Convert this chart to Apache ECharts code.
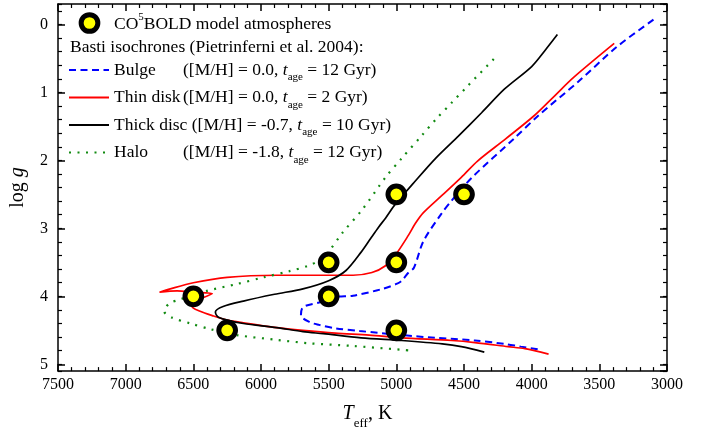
<!DOCTYPE html>
<html>
<head>
<meta charset="utf-8">
<script src="https://cdn.jsdelivr.net/npm/echarts@6/dist/echarts.min.js"></script>
<style>html,body{margin:0;padding:0;background:#fff;}#c{width:712px;height:435px;}</style>
</head>
<body>
<div id="c"></div>
<script>
// ---- data (Teff [K], log g) ----
const cobold = [[6500,4.0],[6250,4.5],[5500,3.5],[5500,4.0],[5000,2.5],[5000,3.5],[5000,4.5],[4500,2.5]];
const bulge = [[3100,-0.07],[3370,0.33],[3660,0.85],[3950,1.34],[4130,1.68],[4440,2.25],[4590,2.59],[4665,2.78],[4800,3.19],[4870,3.58],[4910,3.65],[4960,3.77],[4990,3.81],[5100,3.89],[5320,3.99],[5450,4.01],[5570,4.09],[5690,4.16],[5705,4.28],[5640,4.38],[5570,4.42],[5450,4.47],[5270,4.51],[4960,4.57],[4715,4.61],[4420,4.65],[4200,4.70],[4080,4.74],[3950,4.78]];
const thinDisk = [[3390,0.28],[3690,0.78],[3830,1.05],[3980,1.34],[4190,1.68],[4400,2.01],[4520,2.25],[4665,2.52],[4800,2.77],[4860,2.93],[4910,3.10],[5006,3.39],[5080,3.55],[5180,3.65],[5320,3.69],[5540,3.69],[5885,3.69],[6250,3.72],[6500,3.80],[6670,3.89],[6750,3.94],[6620,3.92],[6500,3.94],[6360,3.96],[6430,4.02],[6500,4.06],[6510,4.15],[6450,4.22],[6350,4.29],[6250,4.35],[6130,4.39],[5885,4.46],[5690,4.50],[5450,4.54],[5200,4.57],[4960,4.61],[4590,4.65],[4420,4.68],[4175,4.74],[4050,4.77],[3875,4.85]];
const thickDisc = [[3810,0.15],[3900,0.38],[4000,0.62],[4200,0.95],[4370,1.30],[4540,1.64],[4710,1.97],[4880,2.35],[5006,2.64],[5080,2.85],[5130,2.98],[5190,3.15],[5260,3.35],[5372,3.62],[5500,3.77],[5690,3.89],[5900,3.97],[6130,4.07],[6280,4.15],[6337,4.23],[6320,4.30],[6250,4.35],[6130,4.40],[5885,4.46],[5690,4.52],[5540,4.55],[5260,4.61],[4960,4.65],[4660,4.70],[4520,4.74],[4350,4.82]];
const halo = [[4280,0.51],[4470,0.90],[4590,1.15],[4700,1.38],[4810,1.63],[4960,1.97],[5080,2.25],[5250,2.72],[5400,3.07],[5500,3.34],[5580,3.48],[5650,3.55],[5790,3.63],[5980,3.72],[6180,3.82],[6400,3.92],[6590,4.04],[6680,4.11],[6716,4.22],[6660,4.31],[6520,4.40],[6380,4.48],[6180,4.57],[5885,4.64],[5650,4.69],[5320,4.73],[4880,4.80]];
const xRange = [3000, 7500];
const yRange = [-0.3, 5.1];
const seriesNames = ['Bulge', 'Thin disk', 'Thick disc', 'Halo'];
const legendText = {
  'Bulge': '{nm|Bulge}([M/H] = 0.0, {it|t}{sb|age} = 12 Gyr)',
  'Thin disk': '{nm|Thin disk}([M/H] = 0.0, {it|t}{sb|age} = 2 Gyr)',
  'Thick disc': 'Thick disc ([M/H] = -0.7, {it|t}{sb|age} = 10 Gyr)',
  'Halo': '{nm|Halo}([M/H] = -1.8, {it|t}{sb|age} = 12 Gyr)'
};
const coboldLabel = ['CO', '5', 'BOLD model atmospheres'];
const headingLabel = 'Basti isochrones (Pietrinferni et al. 2004):';

const FONT = 'Liberation Serif';
const LF = 17.5; // legend font size
const chart = echarts.init(document.getElementById('c'), null, {renderer: 'canvas'});

// text measuring for the hand-placed legend entry
const mctx = document.createElement('canvas').getContext('2d');
function tw(t, size) { mctx.font = size + 'px "' + FONT + '"'; return mctx.measureText(t).width; }
const lx0 = 114;
const lx1 = lx0 + tw(coboldLabel[0], LF);
const lx2 = lx1 + tw(coboldLabel[1], 11);

const axisLine = {show: true, onZero: false, lineStyle: {color: '#000', width: 1.5}};
function xAx(pos, main) {
  return {
    type: 'value', min: xRange[0], max: xRange[1], inverse: true, interval: 500, position: pos,
    axisLine: axisLine,
    axisTick: {show: true, inside: true, length: 7, lineStyle: {color: '#000', width: 1.5}},
    minorTick: {show: true, splitNumber: 5, length: 4, lineStyle: {color: '#000', width: 1.2}},
    axisLabel: {show: main, color: '#000', fontSize: 16, fontFamily: FONT, margin: 6, formatter: v => String(v)},
    splitLine: {show: false}, minorSplitLine: {show: false},
    name: main ? '{i|T}{s|eff}{n|, K}' : '', nameLocation: 'middle', nameGap: 24,
    nameTextStyle: {color: '#000', fontFamily: FONT, fontSize: 20, lineHeight: 32, padding: [0, 0, 0, 10], rich: {
      i: {fontStyle: 'italic', fontSize: 20, fontFamily: FONT, color: '#000', lineHeight: 32},
      s: {fontSize: 13, fontFamily: FONT, color: '#000', lineHeight: 10, verticalAlign: 'bottom'},
      n: {fontSize: 20, fontFamily: FONT, color: '#000', lineHeight: 32}
    }}
  };
}
function yAx(pos, major, labels) {
  return {
    type: 'value', min: yRange[0], max: yRange[1], inverse: true, position: pos,
    splitNumber: major ? 5 : 27,
    axisLine: major ? axisLine : {show: false, onZero: false},
    axisTick: {show: true, inside: true, length: major ? 7 : 4, lineStyle: {color: '#000', width: major ? 1.5 : 1.2}},
    axisLabel: {show: labels, color: '#000', fontSize: 16, fontFamily: FONT, margin: 10, showMinLabel: false, showMaxLabel: false, formatter: v => String(v)},
    splitLine: {show: false},
    name: labels ? 'log {i|g}' : '', nameLocation: 'middle', nameGap: 30, nameRotate: 90,
    nameTextStyle: {color: '#000', fontFamily: FONT, fontSize: 20, rich: {
      i: {fontStyle: 'italic', fontSize: 20, fontFamily: FONT, color: '#000'}
    }}
  };
}

const lineSeries = (name, data, color, width, type) => ({
  name, type: 'line', data, symbol: 'none', showSymbol: false, smooth: 0.3, z: 2,
  lineStyle: {color, width, type, cap: 'butt'}, itemStyle: {color}
});

chart.setOption({
  animation: false,
  backgroundColor: '#fff',
  grid: {left: 53, right: 45, top: 4, bottom: 58, containLabel: false},
  xAxis: [xAx('bottom', true), xAx('top', false)],
  yAxis: [yAx('left', true, true), yAx('left', false, false), yAx('right', true, false), yAx('right', false, false)],
  legend: [
    {
      data: seriesNames, orient: 'vertical', left: 68, top: 57, padding: 0, itemWidth: 40, itemHeight: 12, itemGap: 1.5,
      itemStyle: {opacity: 0},
      formatter: name => legendText[name],
      textStyle: {fontFamily: FONT, fontSize: LF, color: '#000', lineHeight: 26, rich: {
        nm: {width: 69, fontFamily: FONT, fontSize: LF, color: '#000', lineHeight: 26},
        it: {fontStyle: 'italic', fontFamily: FONT, fontSize: LF, color: '#000', lineHeight: 26},
        sb: {fontFamily: FONT, fontSize: 11, color: '#000', lineHeight: 10, verticalAlign: 'bottom'}
      }}
    }
  ],
  graphic: [
    {
      type: 'circle', shape: {cx: 89.5, cy: 23, r: 8.35},
      style: {fill: '#ffff00', stroke: '#000', lineWidth: 5}
    },
    {
      type: 'text', x: lx0, y: 24,
      style: {text: coboldLabel[0], font: LF + 'px "Liberation Serif"', fill: '#000', verticalAlign: 'middle'}
    },
    {
      type: 'text', x: lx1, y: 17,
      style: {text: coboldLabel[1], font: '11px "Liberation Serif"', fill: '#000', verticalAlign: 'middle'}
    },
    {
      type: 'text', x: lx2, y: 24,
      style: {text: coboldLabel[2], font: LF + 'px "Liberation Serif"', fill: '#000', verticalAlign: 'middle'}
    },
    {
      type: 'text', x: 70, y: 47,
      style: {text: headingLabel, font: LF + 'px "Liberation Serif"', fill: '#000', verticalAlign: 'middle'}
    }
  ],
  series: [
    lineSeries('Bulge', bulge, '#0000ff', 2, [7, 4.5]),
    lineSeries('Thin disk', thinDisk, '#ff0000', 1.7, 'solid'),
    lineSeries('Thick disc', thickDisc, '#000000', 1.7, 'solid'),
    lineSeries('Halo', halo, '#118a11', 2.2, [2, 6.5]),
    {
      name: 'CO5BOLD model atmospheres', type: 'scatter', data: cobold, symbol: 'circle', symbolSize: 16.7, z: 5,
      itemStyle: {color: '#ffff00', borderColor: '#000', borderWidth: 5, opacity: 1}
    }
  ]
});
</script>
</body>
</html>
